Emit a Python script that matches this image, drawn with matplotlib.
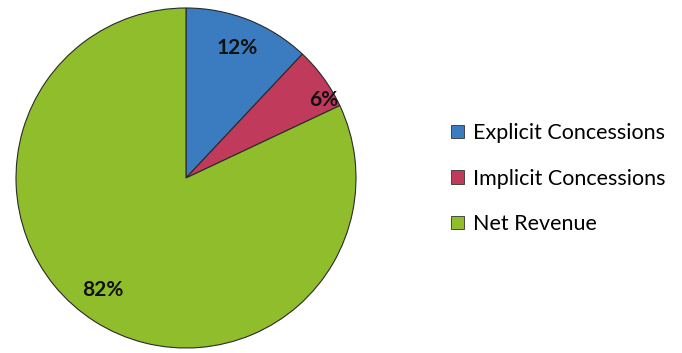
import numpy as np
import matplotlib.pyplot as plt
from matplotlib.patches import Patch

labels = ["Explicit Concessions", "Implicit Concessions", "Net Revenue"]
shares = [12, 6, 82]
colors = ["#3b7bc0", "#c03a5c", "#8fbd2c"]

plt.rcParams['font.family'] = ['Lato', 'DejaVu Sans']

fig = plt.figure(figsize=(6.82, 3.53), dpi=100)
ax = fig.add_axes([16/682, 5/353, 340/682, 340/353])

wedges, texts, autotexts = ax.pie(shares, colors=colors, startangle=90, counterclock=False,
                                  autopct="%d%%", pctdistance=0.82, radius=1,
                                  wedgeprops=dict(edgecolor="#2a2a2a", linewidth=0.8),
                                  textprops=dict(fontsize=15, fontweight="bold", color="#111111"))
ax.set_xlim(-1.0, 1.0)
ax.set_ylim(-1.0, 1.0)
ax.set_aspect("equal")
ax.axis("off")

# the small slice label sits further out
ang = np.deg2rad(90 - 60.5)
autotexts[1].set_position((0.93 * np.cos(ang), 0.93 * np.sin(ang)))
ang = np.deg2rad(90 - 216.5)
autotexts[2].set_position((0.82 * np.cos(ang), 0.82 * np.sin(ang)))

handles = [Patch(facecolor=c, edgecolor="#333333", linewidth=0.6) for c in colors]
fig.legend(handles, labels, loc="center left", bbox_to_anchor=(451/682, 0.494),
           frameon=False, fontsize=15.5, handlelength=0.6, handleheight=0.6,
           handletextpad=0.4, labelspacing=1.19, borderpad=0, borderaxespad=0)

fig.savefig("out.png", dpi=100)
